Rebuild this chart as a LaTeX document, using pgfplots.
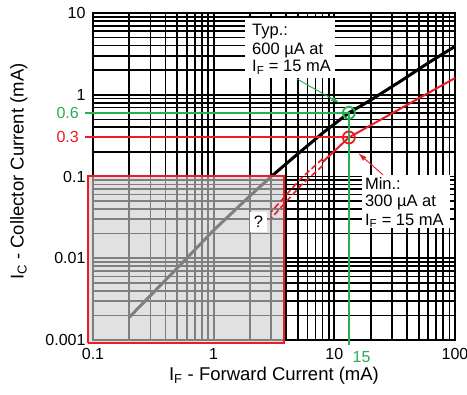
\documentclass[border=0pt]{standalone}
\usepackage{fontspec}
\setmainfont{Liberation Sans}
\usepackage{pgfplots}
\pgfplotsset{compat=1.18}
\usetikzlibrary{arrows.meta}
\definecolor{myred}{RGB}{237,28,36}
\definecolor{mygreen}{RGB}{40,175,80}
\definecolor{rectgray}{gray}{0.806}
\newcommand{\bx}{\fontsize{16.5}{18}\selectfont}
\newcommand{\tk}{\fontsize{16}{18}\selectfont}
\newcommand{\lb}{\fontsize{18.5}{20}\selectfont}
\begin{document}
\begin{tikzpicture}
\useasboundingbox (-93pt,-55pt) rectangle (374pt,340pt);
\begin{axis}[
  at={(0pt,0pt)}, anchor=south west,
  scale only axis, width=362pt, height=327pt,
  xmode=log, ymode=log,
  xmin=0.1, xmax=100, ymin=0.001, ymax=10,
  clip=false,
  grid=both,
  major grid style={black, line width=1.7pt},
  minor grid style={black, line width=1.7pt},
  axis line style={black, line width=2.4pt},
  major tick length=0pt, minor tick length=0pt,
  xtick={0.1,1,10,100}, xticklabels={0.1,1,10,100},
  ytick={0.001,0.01,0.1,1,10}, yticklabels={0.001,0.01,0.1,1,10},
  tick label style={font=\tk},
  xticklabel style={yshift=-5pt},
  yticklabel style={xshift=-4pt},
  xlabel={I\textsubscript{F} - Forward Current (mA)},
  ylabel={I\textsubscript{C} - Collector Current (mA)},
  every axis x label/.style={at={(axis description cs:0.5,-0.110)}, anchor=center, font=\lb},
  every axis y label/.style={at={(axis description cs:-0.205,0.515)}, anchor=center, rotate=90, font=\lb},
]
% typical curve
\addplot[black, line width=3pt] coordinates {
 (0.2,0.0019) (0.5,0.0076) (1,0.022) (2,0.058) (3,0.1) (5,0.19) (8,0.34) (13.2,0.6) (20,0.86) (35,1.45) (60,2.45) (100,3.9)};
% shaded region
\addplot[draw=none, fill=rectgray, fill opacity=0.62] coordinates {
 (0.0909,0.00092) (3.83,0.00092) (3.83,0.1) (0.0909,0.1) (0.0909,0.00092)};
\addplot[myred, line width=2pt] coordinates {
 (0.0909,0.00092) (3.83,0.00092) (3.83,0.1) (0.0909,0.1) (0.0909,0.00092)};
% minimum curve
\addplot[myred, line width=2pt] coordinates {(100,1.6) (13.2,0.3) (8,0.15)};
\addplot[myred, line width=1.6pt, dash pattern=on 6pt off 3pt] coordinates {(8,0.165) (5.3,0.095) (3.0,0.037)};
\addplot[myred, line width=1.6pt, dash pattern=on 6pt off 3pt] coordinates {(8,0.136) (5.3,0.078) (3.0,0.031)};
% reference lines
\addplot[myred, line width=2pt] coordinates {(0.086,0.3) (13.2,0.3)};
\addplot[mygreen, line width=2pt] coordinates {(0.086,0.6) (13.2,0.6) (13.2,0.00087)};
\addplot[only marks, mark=o, mark size=6pt, mygreen, line width=1.8pt] coordinates {(13.2,0.6)};
\addplot[only marks, mark=o, mark size=6pt, myred, line width=1.8pt] coordinates {(13.2,0.3)};
% arrows
\draw[mygreen, line width=0.9pt, -{Latex[length=9pt,width=5pt]}] (axis cs:4.9,1.56) -- (axis cs:11.1,0.79);
\draw[myred, line width=0.9pt, -{Latex[length=9pt,width=5pt]}] (axis cs:25.3,0.105) -- (axis cs:15.7,0.194);
% text boxes
\fill[white] (axis cs:1.82,8.7) rectangle (axis cs:10.1,1.6);
\node[anchor=base west, inner sep=0, font=\bx] at (axis cs:2.08,5.38) {Typ.:};
\node[anchor=base west, inner sep=0, font=\bx] at (axis cs:2.08,3.15) {600 µA at};
\node[anchor=base west, inner sep=0, font=\bx] at (axis cs:2.08,1.90) {I\textsubscript{F} = 15 mA};
\fill[white] (axis cs:16.9,0.104) rectangle (axis cs:90.8,0.0234);
\node[anchor=base west, inner sep=0, font=\bx] at (axis cs:17.9,0.0703) {Min.:};
\node[anchor=base west, inner sep=0, font=\bx] at (axis cs:17.9,0.0424) {300 µA at};
\node[anchor=base west, inner sep=0, font=\bx] at (axis cs:17.9,0.0255) {I\textsubscript{F} = 15 mA};
\node[fill=white, minimum width=17pt, minimum height=20pt, inner sep=0, font=\bx] at (axis cs:2.35,0.0277) {?};
% coloured value labels
\node[anchor=east, inner sep=0, mygreen, font=\tk] at (axis cs:0.1,0.6) [xshift=-14pt] {0.6};
\node[anchor=east, inner sep=0, myred, font=\tk] at (axis cs:0.1,0.3) [xshift=-14pt] {0.3};
\node[anchor=center, inner sep=0, mygreen, font=\tk] at (axis cs:16.8,0.001) [yshift=-17pt] {15};
\end{axis}
\end{tikzpicture}
\end{document}
